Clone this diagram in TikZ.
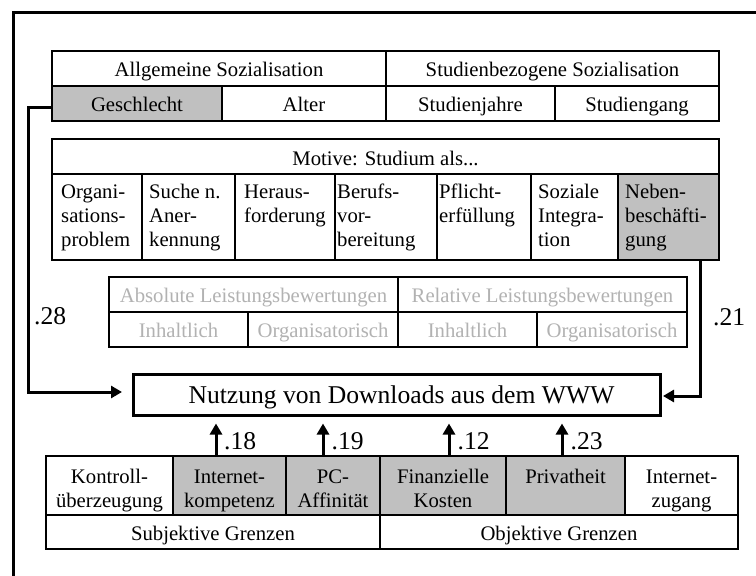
\documentclass[tikz,border=0pt]{standalone}
\usepackage{fontspec}
\setmainfont{Liberation Serif}
\usetikzlibrary{arrows.meta,calc}
\definecolor{cellgray}{RGB}{192,192,192}
\definecolor{txtgray}{RGB}{178,178,178}
\newcommand{\mlines}[2][c]{\begin{tabular}[t]{@{}#1@{}}#2\end{tabular}}
\newcommand{\smallfont}{\fontsize{20.7pt}{24pt}\selectfont}
\newcommand{\bigfont}{\fontsize{25.6pt}{30pt}\selectfont}
\newcommand{\cellbox}[6]{\node[cell,#6,minimum width={(#4-#2)*1pt},minimum height={(#5-#3)*1pt}] (#1) at (#2,#3) {};}
\newcommand{\ctext}[6][]{\node[txt,anchor=base,#1] (#2) at ({(#3+#4)/2},#5) {#6};}
\tikzset{
  cell/.style={draw, line width=1.5pt, inner sep=0pt, outer sep=0pt, anchor=north west},
  txt/.style={inner sep=0pt, font=\smallfont},
  gtxt/.style={text=txtgray},
  mtxt/.style={txt, anchor=base west},
  mainbox/.style={draw, line width=3pt, inner sep=0pt, outer sep=0pt, font=\bigfont, text depth=0pt},
  conn/.style={line width=3pt, -{Triangle[length=11pt,width=12pt]}},
  lbl/.style={inner sep=0pt, font=\bigfont, anchor=base west}
}
\begin{document}
\begin{tikzpicture}[x=1pt,y=-1pt]
\clip (0,0) rectangle (756,576);
\fill[white] (0,0) rectangle (756,576);
% outer frame (only left and top edges visible)
\draw[line width=3pt] (13,600) -- (13,12) -- (780,12);

% top table: Sozialisation
\cellbox{allg}{52}{51}{386}{86}{}
\cellbox{stud}{386}{51}{719}{86}{}
\cellbox{geschl}{52}{86}{222}{121}{fill=cellgray}
\cellbox{alter}{222}{86}{386}{121}{}
\cellbox{sjahre}{386}{86}{555}{121}{}
\cellbox{sgang}{555}{86}{719}{121}{}
\ctext{allg-t}{52}{386}{76}{Allgemeine Sozialisation}
\ctext{stud-t}{386}{719}{76}{Studienbezogene Sozialisation}
\ctext{geschl-t}{52}{222}{111}{Geschlecht}
\ctext{alter-t}{222}{386}{111}{Alter}
\ctext{sjahre-t}{386}{555}{111}{Studienjahre}
\ctext{sgang-t}{555}{719}{111}{Studiengang}

% motive table
\cellbox{mhead}{52}{139}{719}{174}{}
\cellbox{m1}{52}{174}{142}{260}{}
\cellbox{m2}{142}{174}{235}{260}{}
\cellbox{m3}{235}{174}{335}{260}{}
\cellbox{m4}{335}{174}{437}{260}{}
\cellbox{m5}{437}{174}{531}{260}{}
\cellbox{m6}{531}{174}{618}{260}{}
\cellbox{m7}{618}{174}{719}{260}{fill=cellgray}
\ctext{mhead-t}{52}{719}{165}{Motive: Studium als...}
\node[mtxt] (m1-t) at (61,198.5) {\mlines[l]{Organi-\\sations-\\problem}};
\node[mtxt] (m2-t) at (149,198.5) {\mlines[l]{Suche n.\\Aner-\\kennung}};
\node[mtxt] (m3-t) at (244,198.5) {\mlines[l]{Heraus-\\forderung}};
\node[mtxt] (m4-t) at (337,198.5) {\mlines[l]{Berufs-\\vor-\\bereitung}};
\node[mtxt] (m5-t) at (439,198.5) {\mlines[l]{Pflicht-\\erfüllung}};
\node[mtxt] (m6-t) at (538,198.5) {\mlines[l]{Soziale\\Integra-\\tion}};
\node[mtxt] (m7-t) at (625,198.5) {\mlines[l]{Neben-\\beschäfti-\\gung}};

% Leistungsbewertungen (grey text)
\cellbox{abs}{109}{277}{398}{312}{}
\cellbox{rel}{398}{277}{687}{312}{}
\cellbox{absi}{109}{312}{248}{347}{}
\cellbox{abso}{248}{312}{398}{347}{}
\cellbox{reli}{398}{312}{537}{347}{}
\cellbox{relo}{537}{312}{687}{347}{}
\ctext[gtxt]{abs-t}{109}{398}{302}{Absolute Leistungsbewertungen}
\ctext[gtxt]{rel-t}{398}{687}{302}{Relative Leistungsbewertungen}
\ctext[gtxt]{absi-t}{109}{248}{337}{Inhaltlich}
\ctext[gtxt]{abso-t}{248}{398}{337}{Organisatorisch}
\ctext[gtxt]{reli-t}{398}{537}{337}{Inhaltlich}
\ctext[gtxt]{relo-t}{537}{687}{337}{Organisatorisch}

% main box
\node[mainbox, anchor=north west, minimum width=527pt, minimum height=41pt] (main) at (133,374.5) {\hspace*{10pt}Nutzung von Downloads aus dem WWW};

% bottom table: Grenzen
\cellbox{b1}{46}{456}{173}{515}{}
\cellbox{b2}{173}{456}{286}{515}{fill=cellgray}
\cellbox{b3}{286}{456}{380}{515}{fill=cellgray}
\cellbox{b4}{380}{456}{506}{515}{fill=cellgray}
\cellbox{b5}{506}{456}{625}{515}{fill=cellgray}
\cellbox{b6}{625}{456}{738}{515}{}
\cellbox{subj}{46}{515}{380}{549}{}
\cellbox{obj}{380}{515}{738}{549}{}
\ctext{b1-t}{46}{173}{483}{\mlines{Kontroll-\\überzeugung}}
\ctext{b2-t}{173}{286}{483}{\mlines{Internet-\\kompetenz}}
\ctext{b3-t}{286}{380}{483}{\mlines{PC-\\Affinität}}
\ctext{b4-t}{380}{506}{483}{\mlines{Finanzielle\\Kosten}}
\ctext{b5-t}{506}{625}{483}{Privatheit}
\ctext{b6-t}{625}{738}{483}{\mlines{Internet-\\zugang}}
\ctext{subj-t}{46}{380}{540}{Subjektive Grenzen}
\ctext{obj-t}{380}{738}{540}{Objektive Grenzen}

% connectors
\draw[conn] ([yshift=-3.5pt]geschl.west) -- ++(-24,0) |- ([xshift=-11pt,yshift=3pt]main.west);
\draw[conn] ([xshift=31.5pt]m7.south) |- ([xshift=3pt,yshift=-1pt]main.east);
\draw[conn] ($(b2.north)+(-13.5,0)$) -- ($(b2.north |- main.south)+(-13.5,8)$);
\draw[conn] ($(b3.north)+(-10,0)$) -- ($(b3.north |- main.south)+(-10,8)$);
\draw[conn] ($(b4.north)+(6,0)$) -- ($(b4.north |- main.south)+(6,8)$);
\draw[conn] ($(b5.north)+(-3.5,0)$) -- ($(b5.north |- main.south)+(-3.5,8)$);

% coefficients
\node[lbl] (l28) at (34,324) {.28};
\node[lbl] (l21) at (713,325) {.21};
\node[lbl] (l18) at (224,449.5) {.18};
\node[lbl] (l19) at (331.5,449.5) {.19};
\node[lbl] (l12) at (457.5,449.5) {.12};
\node[lbl] (l23) at (570.5,449.5) {.23};
\end{tikzpicture}
\end{document}
